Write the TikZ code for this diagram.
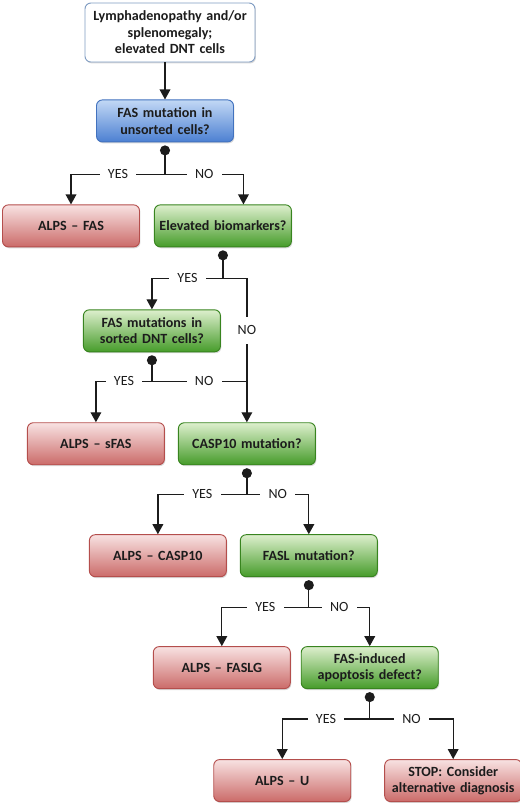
\documentclass[tikz,border=0pt]{standalone}
\usepackage{fontspec}
\setmainfont{Carlito}
\usepackage{tikz}
\usetikzlibrary{arrows.meta, positioning, shadows}

\definecolor{ink}{HTML}{1C1C1C}
\definecolor{startline}{HTML}{7F9CC2}
\definecolor{bluetop}{HTML}{C2D8F5}
\definecolor{bluebot}{HTML}{4C80D2}
\definecolor{blueline}{HTML}{4272BE}
\definecolor{greentop}{HTML}{DDEFCD}
\definecolor{greenbot}{HTML}{469C2A}
\definecolor{greenline}{HTML}{38841F}
\definecolor{redtop}{HTML}{F8E2E2}
\definecolor{redbot}{HTML}{CB6B69}
\definecolor{redline}{HTML}{B44E4C}

\begin{document}
\begin{tikzpicture}[
    node distance=1.86cm and 0.42cm,
    box/.style={rectangle, rounded corners=5pt, draw, line width=0.8pt, text width=3.85cm, inner xsep=0.13cm, inner ysep=2pt, align=center, minimum height=1.26cm, text=ink, font=\fontsize{12}{14}\selectfont\bfseries, drop shadow={opacity=0.3, shadow xshift=0.8pt, shadow yshift=-1.2pt}},
    entry/.style={box, draw=startline, fill=white, text width=4.84cm, minimum height=1.77cm},
    query/.style={box, draw=blueline, top color=bluetop, bottom color=bluebot},
    decision/.style={box, draw=greenline, top color=greentop, bottom color=greenbot},
    outcome/.style={box, draw=redline, top color=redtop, bottom color=redbot},
    answer/.style={fill=white, inner xsep=0.25cm, inner ysep=1pt, text=ink, font=\fontsize{12}{14}\selectfont},
    line/.style={draw=ink, line width=1.1pt},
    link/.style={line, -{Triangle[length=0.3cm, width=0.32cm]}},
    stem/.style={line, {Circle[length=0.3cm]}-, shorten <=0.09cm}
]
    \useasboundingbox (0,0) rectangle (15.6,-24.18);

    % Nodes
    \node [entry] (start) at (5.10,-0.975) {Lymphadenopathy and/or\\splenomegaly;\\elevated DNT cells};
    \node [query, below=1.11cm of start, xshift=-0.15cm] (fas) {FAS mutation in\\unsorted cells?};
    \node [outcome, below=1.86cm of fas, xshift=-2.82cm] (alpsfas) {ALPS -- FAS};
    \node [decision, right=0.42cm of alpsfas] (elev) {Elevated biomarkers?};
    \node [decision, below=1.86cm of elev, xshift=-2.13cm] (sorted) {FAS mutations in\\sorted DNT cells?};
    \node [outcome, below=2.1cm of sorted, xshift=-1.68cm] (sfas) {ALPS -- sFAS};
    \node [decision, right=0.39cm of sfas] (casp) {CASP10 mutation?};
    \node [outcome, below=2.07cm of casp, xshift=-2.67cm] (alpscasp) {ALPS -- CASP10};
    \node [decision, right=0.39cm of alpscasp] (fasl) {FASL mutation?};
    \node [outcome, below=2.07cm of fasl, xshift=-2.61cm] (faslg) {ALPS -- FASLG};
    \node [decision, right=0.3cm of faslg] (fasind) {FAS-induced\\apoptosis defect?};
    \node [outcome, below=2.1cm of fasind, xshift=-2.625cm] (alpsu) {ALPS -- U};
    \node [outcome, right=0.99cm of alpsu] (stop) {STOP: Consider\\alternative diagnosis};

    % Junctions
    \coordinate [below=0.96cm of fas] (j1);
    \coordinate [below=0.93cm of elev] (j2);
    \coordinate [below=0.87cm of sorted] (j3);
    \coordinate [below=0.87cm of casp] (j4);
    \coordinate [below=0.9cm of fasl] (j5);
    \coordinate [below=0.9cm of fasind] (j6);

    % Paths
    \path [link] (fas.north |- start.south) -- (fas.north);

    \path [stem] (fas.south) -- (j1);
    \path [link] (j1) -| (alpsfas.north) node[answer, pos=0.25] {YES};
    \path [link] (j1) -| ([xshift=0.615cm]elev.north) node[answer, pos=0.25] {NO};

    \path [stem] (elev.south) -- (j2);
    \path [link] (j2) -| (sorted.north) node[answer, pos=0.25] {YES};
    \path [link] (j2) -| (casp.north) node[answer, pos=0.68, inner ysep=0.27cm] {NO};

    \path [stem] (sorted.south) -- (j3);
    \path [link] (j3) -| (sfas.north) node[answer, pos=0.25] {YES};
    \path [line] (j3) -- (j3 -| casp.north) node[answer, pos=0.55] {NO};

    \path [stem] (casp.south) -- (j4);
    \path [link] (j4) -| (alpscasp.north) node[answer, pos=0.25] {YES};
    \path [link] (j4) -| (fasl.north) node[answer, pos=0.25] {NO};

    \path [stem] (fasl.south) -- (j5);
    \path [link] (j5) -| (faslg.north) node[answer, pos=0.25] {YES};
    \path [link] (j5) -| (fasind.north) node[answer, pos=0.25] {NO};

    \path [stem] (fasind.south) -- (j6);
    \path [link] (j6) -| (alpsu.north) node[answer, pos=0.25] {YES};
    \path [link] (j6) -| (stop.north) node[answer, pos=0.25] {NO};
\end{tikzpicture}
\end{document}
